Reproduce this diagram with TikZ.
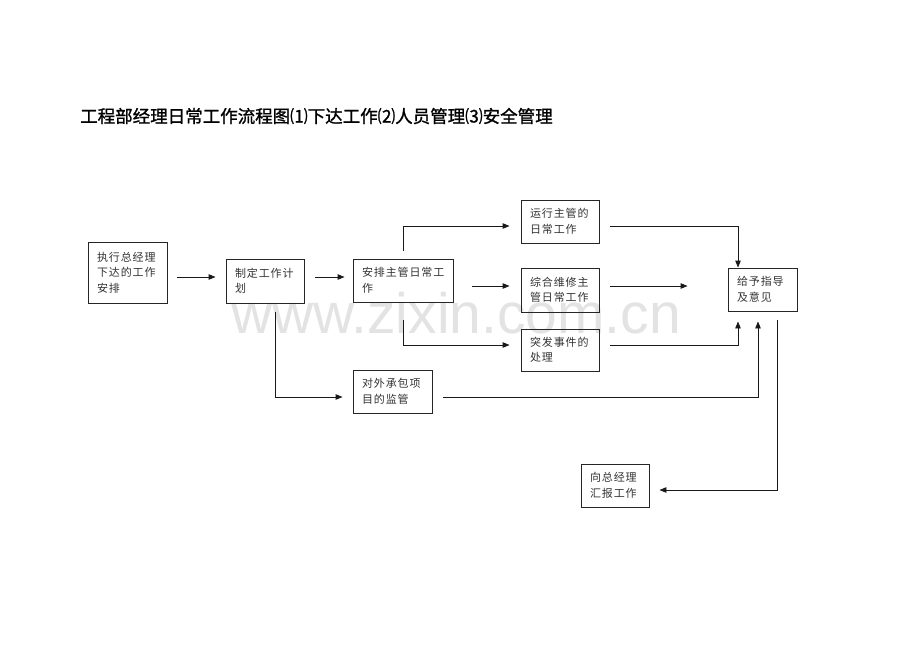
\documentclass[tikz,border=0pt]{standalone}
\usepackage{fontspec}
\usetikzlibrary{arrows.meta}
\newfontfamily\cjk{Noto Sans CJK SC}
\newfontfamily\cjktitle[FakeBold=1.2]{Noto Sans CJK SC}
\newfontfamily\cjkbox[LetterSpace=8]{Noto Sans CJK SC}
\newfontfamily\wmfont{Liberation Sans}
\tikzset{
  box/.style={draw=black!85, line width=0.9pt, rectangle, inner ysep=0pt, inner xsep=9pt,
    align=left, font=\cjkbox\fontsize{11}{15.5}\selectfont, text=black!80},
  arr/.style={draw=black!90, line width=0.9pt, -{Triangle[length=7pt,width=5.5pt]}},
  ln/.style={draw=black!90, line width=0.9pt}
}
\begin{document}
\begin{tikzpicture}[x=1pt,y=-1pt]
\useasboundingbox[fill=white] (0,0) rectangle (920,651);
% watermark
\node[anchor=base west, inner sep=0pt, font=\wmfont\fontsize{57}{57}\selectfont, text=black!11] (wm) at (231,333) {www.zixin.com.cn};
% title
\node[anchor=west, inner sep=0pt, font=\cjktitle\fontsize{17.5}{17.5}\selectfont] (title) at (80,116) {工程部经理日常工作流程图⑴下达工作⑵人员管理⑶安全管理};
% boxes
\node[box, minimum width=79pt, minimum height=61pt, text width=61pt] (b1) at (127.5,272.5) {执行总经理\\下达的工作\\安排};
\node[box, minimum width=78pt, minimum height=44pt, text width=60pt] (b2) at (265,281) {制定工作计\\划};
\node[box, minimum width=100pt, minimum height=43pt, text width=82pt] (b3) at (403,280.5) {安排主管日常工\\作};
\node[box, minimum width=78pt, minimum height=43pt, text width=60pt] (b4) at (560,221.5) {运行主管的\\日常工作};
\node[box, minimum width=78pt, minimum height=44pt, text width=60pt] (b5) at (560,290) {综合维修主\\管日常工作};
\node[box, minimum width=78pt, minimum height=42pt, text width=60pt] (b6) at (560,350) {突发事件的\\处理};
\node[box, minimum width=69pt, minimum height=43pt, text width=51pt] (b7) at (762.5,289.5) {给予指导\\及意见};
\node[box, minimum width=79pt, minimum height=43pt, text width=61pt] (b8) at (392.5,391.5) {对外承包项\\目的监管};
\node[box, minimum width=68pt, minimum height=43pt, text width=50pt] (b9) at (615,485.5) {向总经理\\汇报工作};
% connectors
\draw[arr, shorten <=10pt, shorten >=10pt] ([yshift=4pt]b2.west -| b1.east) -- ([yshift=4pt]b2.west);
\draw[arr, shorten <=11pt, shorten >=8pt] ([yshift=3.5pt]b3.west -| b2.east) -- ([yshift=3.5pt]b3.west);
\draw[arr, shorten <=8pt, shorten >=11pt] (b3.north) |- ([yshift=-4.5pt]b4.west);
\draw[arr, shorten <=19pt, shorten >=11pt] ([yshift=4pt]b5.west -| b3.east) -- ([yshift=4pt]b5.west);
\draw[arr, shorten <=18pt, shorten >=11pt] (b3.south) |- ([yshift=5pt]b6.west);
\draw[arr, shorten <=9pt, shorten >=10pt] ([xshift=10pt]b2.south) |- ([yshift=-5.5pt]b8.west);
\draw[arr, shorten <=11pt] ([yshift=-4.5pt]b4.east) -| ([xshift=-24.5pt]b7.north);
\draw[arr, shorten <=11pt, shorten >=40pt] ([yshift=4pt]b5.east) -- ([yshift=4pt]b5.east -| b7.west);
\draw[arr, shorten <=11pt, shorten >=10pt] ([yshift=5pt]b6.east) -| ([xshift=-24.5pt]b7.south);
\draw[arr, shorten <=11pt, shorten >=10pt] ([yshift=-5.5pt]b8.east) -| ([xshift=-4.5pt]b7.south);
\draw[arr, shorten <=9pt, shorten >=10pt] ([xshift=14.5pt]b7.south) |- ([yshift=-4.5pt]b9.east);
\end{tikzpicture}
\end{document}
